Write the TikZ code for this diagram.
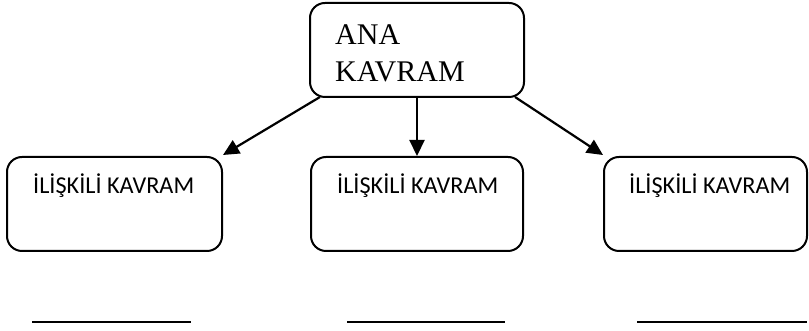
\documentclass[tikz,border=0pt]{standalone}
\usepackage{fontspec}
\setmainfont{Liberation Serif}
\newfontfamily\calfont{Carlito}
\usetikzlibrary{arrows.meta}
\begin{document}
\begin{tikzpicture}[x=1pt,y=1pt,
  box/.style={draw, line width=2pt, rounded corners=15pt, inner sep=0pt},
  rel/.style={anchor=base west, inner sep=0pt, font=\calfont\fontsize{24.2}{29}\selectfont},
  main/.style={anchor=base west, inner sep=0pt, font=\fontsize{30}{36}\selectfont},
  conn/.style={line width=2.2pt, -{Triangle[length=16pt,width=15pt]}},
  blank/.style={line width=1.6pt}]
\useasboundingbox (0,0) rectangle (809,331);
% top box
\node[box, minimum width=214pt, minimum height=94pt] (top) at (417,281) {};
\node[main] (t1) at (335,286) {ANA};
\node[main] (t2) at (335,249) {KAVRAM};
% lower boxes
\node[box, minimum width=215pt, minimum height=94pt] (b1) at (114.5,127) {};
\node[box, minimum width=212pt, minimum height=94pt] (b2) at (417,127) {};
\node[box, minimum width=203pt, minimum height=94pt] (b3) at (705.5,127) {};
\node[rel] (l1) at (33,137) {İLİŞKİLİ KAVRAM};
\node[rel] (l2) at (337,137) {İLİŞKİLİ KAVRAM};
\node[rel] (l3) at (629,137) {İLİŞKİLİ KAVRAM};
% arrow endpoints
\coordinate (s1) at (320,234);
\coordinate (e1) at (223,176);
\coordinate (s3) at (515,234);
\coordinate (e3) at (603,176);
\draw[conn] (s1) -- (e1);
\draw[conn] (top.south) -- (b2.north);
\draw[conn] (s3) -- (e3);
% blank lines
\coordinate (u1a) at (32,9); \coordinate (u1b) at (191,9);
\coordinate (u2a) at (347,9); \coordinate (u2b) at (505,9);
\coordinate (u3a) at (637,9); \coordinate (u3b) at (807,9);
\draw[blank] (u1a) -- (u1b);
\draw[blank] (u2a) -- (u2b);
\draw[blank] (u3a) -- (u3b);
\end{tikzpicture}
\end{document}
